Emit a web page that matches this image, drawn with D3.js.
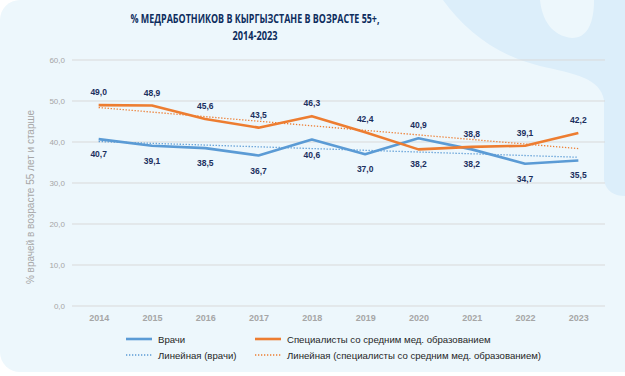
<!DOCTYPE html>
<html>
<head>
<meta charset="utf-8">
<script src="https://cdn.jsdelivr.net/npm/d3@7.9.0/dist/d3.min.js"></script>
<style>
  body { margin: 0; background: #ffffff; }
  svg { display: block; font-family: "Liberation Sans", Arial, sans-serif; }
</style>
</head>
<body>
<svg id="chart" width="625" height="376"></svg>
<script>
const years = ["2014", "2015", "2016", "2017", "2018", "2019", "2020", "2021", "2022", "2023"];
const doctors = [40.7, 39.1, 38.5, 36.7, 40.6, 37.0, 40.9, 38.2, 34.7, 35.5];
const nurses = [49.0, 48.9, 45.6, 43.5, 46.3, 42.4, 38.2, 38.8, 39.1, 42.2];
const yTicks = [0, 10, 20, 30, 40, 50, 60];
const titleLines = ["% МЕДРАБОТНИКОВ В КЫРГЫЗСТАНЕ В ВОЗРАСТЕ 55+,", "2014-2023"];
const yTitle = "% врачей в возрасте 55 лет и старше";
const legendItems = [
  { label: "Врачи", color: "#5B9BD5", dotted: false },
  { label: "Специалисты со средним мед. образованием", color: "#ED7D31", dotted: false },
  { label: "Линейная (врачи)", color: "#5B9BD5", dotted: true },
  { label: "Линейная (специалисты со средним мед. образованием)", color: "#ED7D31", dotted: true }
];

const svg = d3.select("#chart");
const ru = d3.formatLocale({ decimal: ",", thousands: " ", grouping: [3], currency: ["", ""] });
const fmt = ru.format(".1f");

// card background
svg.append("rect")
  .attr("x", 0).attr("y", 0)
  .attr("width", 660).attr("height", 372)
  .attr("rx", 20)
  .attr("fill", "#EDF7FC");

// decorative swirl in the top right
svg.append("path")
  .attr("fill", "#DCEEFA")
  .attr("fill-rule", "evenodd")
  .attr("d", "M443,0 C465,30 495,55 540,66 C575,74 600,78 604,100 L604,180 C606,192 615,196 625,196 L625,0 Z " +
             "M540,0 C542,20 552,36 572,38 C588,38 594,22 594,0 Z");

const xScale = d3.scalePoint().domain(years).range([72, 605]).padding(0.5);
const yScale = d3.scaleLinear().domain([0, 60]).range([306, 60]);

// gridlines
svg.append("g")
  .selectAll("line")
  .data(yTicks)
  .join("line")
  .attr("x1", 72).attr("x2", 605)
  .attr("y1", d => yScale(d)).attr("y2", d => yScale(d))
  .attr("stroke", "#D9D9D9")
  .attr("stroke-width", 1);

// y axis labels
const yAxis = svg.append("g")
  .attr("transform", "translate(72,0)")
  .call(d3.axisLeft(yScale).tickValues(yTicks).tickFormat(fmt).tickSize(0).tickPadding(7));
yAxis.select(".domain").remove();
yAxis.selectAll("text")
  .attr("fill", "#A6A6A6")
  .style("font-size", "8px")
  .style("font-family", "'Liberation Sans', Arial, sans-serif");

// x axis labels
const xAxis = svg.append("g")
  .attr("transform", "translate(0,306)")
  .call(d3.axisBottom(xScale).tickSize(0).tickPadding(9));
xAxis.select(".domain").remove();
xAxis.selectAll("text")
  .attr("fill", "#A6A6A6")
  .style("font-size", "9px")
  .style("font-weight", "bold")
  .style("font-family", "'Liberation Sans', Arial, sans-serif");

// title
svg.append("g")
  .selectAll("text")
  .data(titleLines)
  .join("text")
  .attr("x", 255)
  .attr("y", (d, i) => 23 + i * 17)
  .attr("text-anchor", "middle")
  .attr("fill", "#0E2D5E")
  .style("font-size", "11.5px")
  .style("font-weight", "bold")
  .style("font-family", "'Open Sans', sans-serif")
  .attr("textLength", (d, i) => i === 0 ? 249 : 45)
  .attr("lengthAdjust", "spacingAndGlyphs")
  .text(d => d);

// y axis title
svg.append("text")
  .attr("transform", "translate(34,197) rotate(-90)")
  .attr("text-anchor", "middle")
  .attr("fill", "#A6A6A6")
  .style("font-size", "10px")
  .text(yTitle);

// linear trend (least squares over the series)
function trend(values) {
  const xs = values.map((v, i) => i);
  const mx = d3.mean(xs), my = d3.mean(values);
  const slope = d3.sum(xs, (x, i) => (x - mx) * (values[i] - my)) / d3.sum(xs, x => (x - mx) ** 2);
  const b = my - slope * mx;
  return values.map((v, i) => b + slope * i);
}

const lineGen = d3.line()
  .x((d, i) => xScale(years[i]))
  .y(d => yScale(d));

const series = [
  { values: doctors, color: "#5B9BD5" },
  { values: nurses, color: "#ED7D31" }
];

series.forEach(s => {
  svg.append("path")
    .datum(trend(s.values))
    .attr("fill", "none")
    .attr("stroke", s.color)
    .attr("stroke-width", 1.3)
    .attr("stroke-dasharray", "1.3 1.7")
    .attr("d", lineGen);
});

series.forEach(s => {
  svg.append("path")
    .datum(s.values)
    .attr("fill", "none")
    .attr("stroke", s.color)
    .attr("stroke-width", 2.6)
    .attr("stroke-linejoin", "round")
    .attr("d", lineGen);
});

// data labels: higher value above the point, lower one below
series.forEach((s, si) => {
  const other = series[1 - si].values;
  svg.append("g")
    .selectAll("text")
    .data(s.values)
    .join("text")
    .attr("x", (d, i) => xScale(years[i]))
    .attr("y", (d, i) => d >= other[i] ? yScale(d) - 10 : yScale(d) + 18)
    .attr("text-anchor", "middle")
    .attr("fill", "#1B2F5E")
    .style("font-size", "8.5px")
    .style("font-weight", "bold")
    .text(d => fmt(d));
});

// legend
const legendPos = [
  { x: 126, y: 339 }, { x: 255, y: 339 },
  { x: 126, y: 355 }, { x: 255, y: 355 }
];
const legend = svg.append("g");
legendItems.forEach((item, i) => {
  const p = legendPos[i];
  legend.append("line")
    .attr("x1", p.x).attr("x2", p.x + 26)
    .attr("y1", p.y).attr("y2", p.y)
    .attr("stroke", item.color)
    .attr("stroke-width", item.dotted ? 1.3 : 2.6)
    .attr("stroke-dasharray", item.dotted ? "1.3 1.7" : null);
  legend.append("text")
    .attr("x", p.x + 32)
    .attr("y", p.y + 3.5)
    .attr("fill", "#262626")
    .style("font-size", "9.6px")
    .text(item.label);
});
</script>
</body>
</html>
